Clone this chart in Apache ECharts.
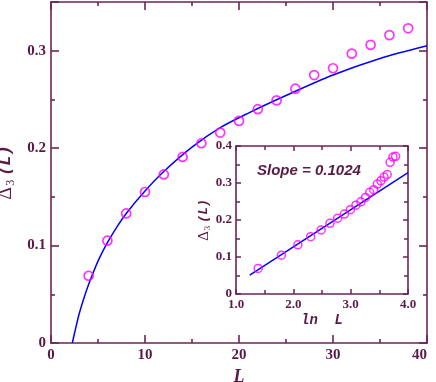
<!DOCTYPE html>
<html>
<head>
<meta charset="utf-8">
<script src="https://cdn.jsdelivr.net/npm/echarts@6/dist/echarts.min.js"></script>
<style>
html,body{margin:0;padding:0;background:#fff;}
#chart{width:436px;height:382px;}
</style>
</head>
<body>
<div id="chart"></div>
<script>
// ---- data ----
const sizesL = [4,6,8,10,12,14,16,18,20,22,24,26,28,30,32,34,36,38];
const delta3 = [0.069,0.105,0.133,0.155,0.173,0.191,0.205,0.216,0.228,0.240,0.249,0.261,0.275,0.282,0.297,0.306,0.316,0.323];
const extraL = [40,42,44];
const extraDelta = [0.356,0.370,0.372];
// fitted curve in the main panel
const curveL = [2.27,2.5,3,3.5,4,5,6,7,8,10,12,15,18,21,25,30,35,40];
const curveDelta = [0,0.010,0.030,0.046,0.060,0.084,0.103,0.119,0.133,0.156,0.176,0.201,0.221,0.236,0.254,0.275,0.292,0.305];
// straight fit in the inset
const fitLnL = [1.24,4.0];
const fitDelta = [0.051,0.328];
const slopeText = 'Slope = 0.1024';
const mainXTicks = [0,10,20,30,40];
const mainYTicks = [0,0.1,0.2,0.3];
const insetXTicks = ['1.0','2.0','3.0','4.0'];
const insetYTicks = ['0','0.1','0.2','0.3','0.4'];

const AX = '#6b2558';
const TX = '#5a1a46';
const MAG = '#ff00ff';
const BLUE = '#0000ff';

const mainPts = sizesL.map((l,i)=>[l,delta3[i]]);
const insetPts = sizesL.concat(extraL).map((l,i)=>[Math.log(l), delta3.concat(extraDelta)[i]]);
const curvePts = curveL.map((l,i)=>[l,curveDelta[i]]);
const fitPts = fitLnL.map((x,i)=>[x,fitDelta[i]]);

function axisBase(extra){
  return Object.assign({
    axisLine:{show:true,onZero:false,lineStyle:{color:AX,width:1.6}},
    axisTick:{show:true,inside:true,length:8,lineStyle:{color:AX,width:1.6}},
    minorTick:{show:true,splitNumber:2,length:4,lineStyle:{color:AX,width:1.6}},
    splitLine:{show:false},
    axisLabel:{show:false}
  },extra);
}
const lblMain = {show:true,color:TX,fontFamily:'Liberation Serif',fontWeight:'bold',fontSize:15,margin:5};
const lblInset = {show:true,color:TX,fontFamily:'Liberation Serif',fontWeight:'bold',fontSize:13,margin:4};
const insetTick = {show:true,inside:true,length:5,lineStyle:{color:AX,width:1.5}};
const insetMinor = {show:true,splitNumber:2,length:4,lineStyle:{color:AX,width:1.5}};

const chart = echarts.init(document.getElementById('chart'));
chart.setOption({
  animation:false,
  backgroundColor:'#fff',
  grid:[
    {left:51,top:2,right:9,bottom:39,containLabel:false,outerBoundsMode:'none'},
    {left:236,top:146,right:28,bottom:88,show:true,backgroundColor:'#fff',borderWidth:0,containLabel:false,outerBoundsMode:'none'}
  ],
  xAxis:[
    axisBase({gridIndex:0,type:'value',min:0,max:40,interval:10,position:'bottom',
      axisLabel:Object.assign({},lblMain,{formatter:v=>mainXTicks.indexOf(v)>=0?String(v):'',alignMaxLabel:'right'}),
      name:'L',nameLocation:'middle',nameGap:20,
      nameTextStyle:{color:TX,fontFamily:'Liberation Serif',fontWeight:'bold',fontStyle:'italic',fontSize:18}}),
    axisBase({gridIndex:0,type:'value',min:0,max:40,interval:10,position:'top'}),
    axisBase({gridIndex:1,type:'value',min:1,max:4,interval:1,position:'bottom',
      axisTick:insetTick,minorTick:insetMinor,
      axisLabel:Object.assign({},lblInset,{formatter:v=>insetXTicks[Math.round(v)-1]||''}),
      name:'ln  L',nameLocation:'middle',nameGap:19,
      nameTextStyle:{color:TX,fontFamily:'Liberation Mono',fontWeight:'bold',fontStyle:'italic',fontSize:14}}),
    axisBase({gridIndex:1,type:'value',min:1,max:4,interval:1,position:'top',
      axisTick:insetTick,minorTick:insetMinor})
  ],
  yAxis:[
    axisBase({gridIndex:0,type:'value',min:0,max:0.35,interval:0.1,position:'left',
      axisLabel:Object.assign({},lblMain,{formatter:v=>{const r=Math.round(v*100)/100;return mainYTicks.indexOf(r)>=0?String(r):'';}}),
      name:'{d|Δ}{s|3}{l|(L)}',nameLocation:'middle',nameGap:31,
      nameTextStyle:{color:TX,rich:{
        d:{color:TX,fontFamily:'Liberation Serif',fontSize:20},
        s:{color:TX,fontFamily:'Liberation Serif',fontSize:12,padding:[9,4,0,1]},
        l:{color:TX,fontFamily:'Liberation Mono',fontWeight:'bold',fontStyle:'italic',fontSize:17}
      }}}),
    axisBase({gridIndex:0,type:'value',min:0,max:0.35,interval:0.1,position:'right'}),
    axisBase({gridIndex:1,type:'value',min:0,max:0.4,interval:0.1,position:'left',
      axisTick:insetTick,minorTick:insetMinor,
      axisLabel:Object.assign({},lblInset,{formatter:v=>insetYTicks[Math.round(v*10)]||''}),
      name:'{d|Δ}{s|3}{l|(L)}',nameLocation:'middle',nameGap:21,
      nameTextStyle:{color:TX,rich:{
        d:{color:TX,fontFamily:'Liberation Serif',fontSize:15},
        s:{color:TX,fontFamily:'Liberation Serif',fontSize:9,padding:[7,3,0,1]},
        l:{color:TX,fontFamily:'Liberation Mono',fontWeight:'bold',fontStyle:'italic',fontSize:13}
      }}}),
    axisBase({gridIndex:1,type:'value',min:0,max:0.4,interval:0.1,position:'right',
      axisTick:insetTick,minorTick:insetMinor})
  ],
  series:[
    {type:'line',xAxisIndex:0,yAxisIndex:0,data:curvePts,smooth:0.3,showSymbol:false,
      lineStyle:{color:BLUE,width:1.5},clip:true,z:2},
    {type:'scatter',xAxisIndex:0,yAxisIndex:0,data:mainPts,symbol:'circle',symbolSize:9,
      itemStyle:{color:'rgba(0,0,0,0)',borderColor:MAG,borderWidth:1.7},z:3},
    {type:'line',xAxisIndex:2,yAxisIndex:2,data:fitPts,showSymbol:false,
      lineStyle:{color:BLUE,width:1.5},z:4},
    {type:'scatter',xAxisIndex:2,yAxisIndex:2,data:insetPts,symbol:'circle',symbolSize:8,
      itemStyle:{color:'rgba(0,0,0,0)',borderColor:MAG,borderWidth:1.5},z:5}
  ],
  graphic:[
    {type:'text',left:257,top:163,z:10,style:{text:slopeText,fill:TX,
      font:'italic bold 15px "Liberation Sans"'}}
  ]
});
</script>
</body>
</html>
